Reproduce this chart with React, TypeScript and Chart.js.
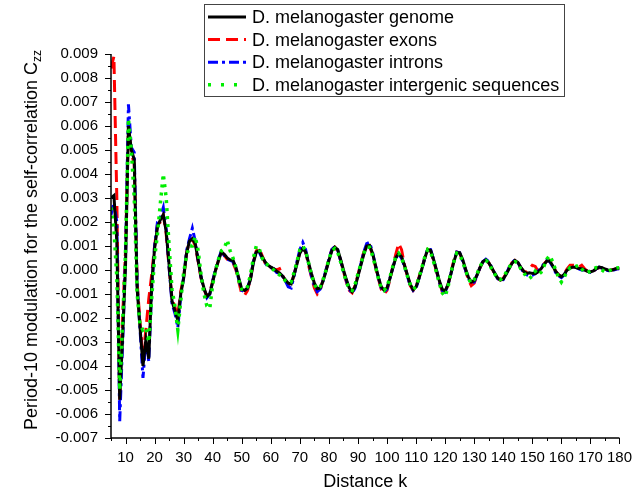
import React, { useEffect, useRef } from 'react';
import { Chart, registerables } from 'chart.js';

Chart.register(...registerables);

// Distance k runs over whole numbers from 5 to 180
const K_FIRST = 5;
const K_LAST = 180;
const distanceK: number[] = [];
for (let k = K_FIRST; k <= K_LAST; k++) distanceK.push(k);

// Values in units of 0.001 (one value per k, k = 5 .. 180)
const genomeMilli = [
  3.0, 3.1, 1.2, -5.4, -2.8, 0.2, 6.0, 5.0, 4.6, -0.8,
  -2.4, -4.0, -2.9, -3.7, -0.6, 0.9, 1.8, 2.1, 2.3, 1.6,
  0.2, -1.3, -1.7, -2.1, -1.0, -0.35, 0.7, 1.2, 1.3, 1.1,
  0.4, -0.3, -0.75, -1.1, -1.0, -0.5, 0.0, 0.4, 0.75, 0.65,
  0.5, 0.42, 0.4, 0.1, -0.35, -0.8, -0.85, -0.75, -0.4, 0.3,
  0.75, 0.8, 0.55, 0.35, 0.2, 0.12, 0.05, -0.05, -0.12, -0.25,
  -0.4, -0.55, -0.58, -0.2, 0.25, 0.7, 0.9, 0.75, 0.3, -0.15,
  -0.55, -0.78, -0.75, -0.45, -0.05, 0.4, 0.8, 0.95, 0.85, 0.45,
  0.0, -0.4, -0.75, -0.9, -0.7, -0.25, 0.2, 0.65, 1.0, 1.02,
  0.7, 0.2, -0.3, -0.7, -0.85, -0.75, -0.35, 0.1, 0.5, 0.68,
  0.55, 0.2, -0.2, -0.6, -0.82, -0.7, -0.35, 0.05, 0.5, 0.85,
  0.82, 0.45, 0.0, -0.45, -0.8, -0.88, -0.6, -0.15, 0.35, 0.72,
  0.72, 0.45, 0.05, -0.3, -0.5, -0.45, -0.2, 0.1, 0.35, 0.42,
  0.3, 0.1, -0.12, -0.32, -0.42, -0.38, -0.18, 0.05, 0.28, 0.4,
  0.32, 0.12, -0.05, -0.14, -0.12, -0.14, -0.15, -0.08, 0.05, 0.22,
  0.38, 0.38, 0.18, -0.05, -0.2, -0.28, -0.18, 0.0, 0.08, 0.12,
  0.1, 0.06, 0.05, 0.0, -0.05, -0.08, -0.04, 0.05, 0.12, 0.1,
  0.04, 0.0, -0.02, 0.02, 0.06, 0.07,
];

const exonsMilli = [
  8.4, 8.9, 3.0, -5.5, -2.0, 0.8, 6.0, 4.9, 4.4, -0.5,
  -2.2, -3.6, -2.5, -1.2, -0.2, 1.0, 1.9, 2.0, 2.3, 1.5,
  0.1, -1.2, -1.55, -1.9, -0.9, -0.3, 0.7, 1.2, 1.3, 1.0,
  0.35, -0.35, -0.8, -1.1, -0.95, -0.45, 0.0, 0.4, 0.75, 0.6,
  0.45, 0.35, 0.3, 0.0, -0.5, -1.0, -1.05, -0.85, -0.35, 0.35,
  0.8, 0.9, 0.6, 0.3, 0.15, 0.1, 0.05, 0.0, 0.05, -0.2,
  -0.45, -0.6, -0.6, -0.2, 0.3, 0.75, 0.95, 0.75, 0.2, -0.3,
  -0.75, -1.0, -0.85, -0.4, 0.0, 0.45, 0.85, 0.95, 0.8, 0.4,
  -0.05, -0.5, -0.85, -0.95, -0.65, -0.2, 0.3, 0.75, 1.0, 1.0,
  0.65, 0.15, -0.35, -0.8, -1.0, -0.85, -0.4, 0.15, 0.65, 1.1,
  0.85, 0.2, -0.25, -0.65, -0.85, -0.7, -0.3, 0.1, 0.5, 0.85,
  0.8, 0.4, -0.05, -0.5, -0.9, -0.95, -0.6, -0.1, 0.4, 0.75,
  0.7, 0.4, 0.0, -0.4, -0.65, -0.55, -0.2, 0.1, 0.35, 0.4,
  0.3, 0.1, -0.15, -0.35, -0.42, -0.35, -0.15, 0.1, 0.3, 0.4,
  0.3, 0.1, -0.05, -0.1, 0.05, 0.2, 0.15, -0.05, 0.05, 0.25,
  0.38, 0.4, 0.25, -0.05, -0.2, -0.28, -0.15, 0.05, 0.2, 0.2,
  0.18, 0.12, 0.2, 0.05, -0.05, -0.1, -0.05, 0.05, 0.1, 0.08,
  0.02, -0.02, 0.0, 0.02, 0.05, 0.06,
];

const intronsMilli = [
  2.3, 2.8, 2.0, -6.3, -3.0, 0.5, 6.9, 5.1, 4.9, -0.6,
  -2.5, -4.5, -3.0, -3.8, -0.8, 1.0, 2.0, 2.2, 2.6, 1.7,
  0.1, -1.4, -1.8, -2.4, -1.1, -0.3, 0.8, 1.3, 1.74, 1.2,
  0.4, -0.3, -0.8, -1.15, -1.0, -0.45, 0.05, 0.45, 0.8, 0.6,
  0.45, 0.4, 0.35, 0.05, -0.4, -0.85, -0.9, -0.75, -0.35, 0.35,
  0.8, 0.75, 0.5, 0.3, 0.15, 0.1, 0.05, -0.1, -0.15, -0.25,
  -0.45, -0.7, -0.75, -0.25, 0.35, 0.85, 1.15, 0.85, 0.25, -0.25,
  -0.65, -0.9, -0.8, -0.45, 0.0, 0.45, 0.85, 0.97, 0.85, 0.4,
  -0.05, -0.45, -0.8, -0.97, -0.75, -0.25, 0.25, 0.75, 1.1, 1.15,
  0.75, 0.2, -0.3, -0.75, -0.9, -0.8, -0.35, 0.1, 0.5, 0.65,
  0.5, 0.15, -0.25, -0.65, -0.85, -0.75, -0.35, 0.05, 0.5, 0.88,
  0.85, 0.45, 0.0, -0.5, -0.85, -0.92, -0.6, -0.15, 0.35, 0.75,
  0.72, 0.4, 0.0, -0.35, -0.55, -0.5, -0.2, 0.1, 0.35, 0.45,
  0.35, 0.12, -0.12, -0.35, -0.45, -0.4, -0.15, 0.1, 0.3, 0.42,
  0.32, 0.1, -0.1, -0.2, -0.25, -0.22, -0.15, -0.05, 0.1, 0.25,
  0.4, 0.35, 0.15, -0.1, -0.25, -0.32, -0.2, 0.0, 0.1, 0.15,
  0.12, 0.05, 0.0, -0.02, -0.05, -0.1, -0.05, 0.05, 0.12, 0.08,
  0.02, -0.02, -0.05, 0.0, 0.04, 0.05,
];

const intergenicMilli = [
  2.6, 1.7, -0.3, -5.0, -2.2, 0.8, 6.3, 5.0, 3.0, -1.0,
  -2.3, -2.5, -2.4, -3.0, -1.2, 0.5, 1.5, 2.8, 4.0, 3.0,
  1.0, -0.8, -1.5, -2.5, -1.3, -0.1, 0.6, 1.0, 1.0, 1.4,
  0.8, -0.2, -1.0, -1.5, -1.6, -0.6, 0.0, 0.45, 0.8, 0.9,
  1.25, 0.8, 0.5, 0.1, -0.45, -0.8, -0.85, -0.7, -0.2, 0.5,
  1.0, 0.9, 0.5, 0.3, 0.2, 0.1, 0.0, -0.15, -0.2, -0.3,
  -0.45, -0.55, -0.5, -0.1, 0.35, 0.85, 1.0, 0.8, 0.3, -0.2,
  -0.6, -0.8, -0.7, -0.4, 0.0, 0.45, 0.8, 0.9, 0.75, 0.35,
  -0.1, -0.5, -0.8, -0.85, -0.6, -0.15, 0.25, 0.7, 0.95, 0.95,
  0.6, 0.15, -0.35, -0.75, -0.85, -0.7, -0.3, 0.15, 0.55, 0.7,
  0.5, 0.15, -0.25, -0.6, -0.8, -0.7, -0.3, 0.1, 0.55, 0.85,
  0.75, 0.35, -0.1, -0.55, -0.95, -1.1, -0.7, -0.1, 0.35, 0.7,
  0.65, 0.35, 0.0, -0.35, -0.55, -0.4, -0.15, 0.15, 0.35, 0.4,
  0.3, 0.05, -0.15, -0.35, -0.4, -0.3, -0.1, 0.1, 0.3, 0.35,
  0.3, 0.05, -0.1, -0.3, -0.35, -0.25, -0.05, -0.2, -0.1, 0.15,
  0.45, 0.6, 0.35, 0.0, -0.3, -0.5, -0.3, -0.05, 0.1, 0.1,
  0.15, 0.2, 0.05, -0.1, -0.1, -0.05, 0.05, 0.1, 0.08, 0.0,
  -0.08, -0.05, 0.0, 0.05, 0.08, 0.1,
];

const seriesLabels = [
  'D. melanogaster genome',
  'D. melanogaster exons',
  'D. melanogaster introns',
  'D. melanogaster intergenic sequences',
];

const X_MIN = 5;
const X_MAX = 180;
const X_MAJOR = 10;
const X_MINOR = 5;
const Y_MIN = -0.007;
const Y_MAX = 0.009;
const Y_MAJOR = 0.001;
const Y_MINOR = 0.0005;

const xTitle = 'Distance k';
const yTitleMain = 'Period-10 modulation for the self-correlation C';
const yTitleSub = 'zz';

const FONT = '"Liberation Sans", Arial, Helvetica, sans-serif';

const toPoints = (vals: number[]) => vals.map((v, i) => ({ x: distanceK[i], y: v / 1000 }));

const axesPlugin = {
  id: 'customAxes',
  afterDatasetsDraw(chart: any) {
    const { ctx, chartArea, scales } = chart;
    const { left, right, top, bottom } = chartArea;
    const x = scales.x;
    const y = scales.y;
    ctx.save();
    ctx.strokeStyle = '#000';
    ctx.lineWidth = 1.5;
    ctx.beginPath();
    ctx.moveTo(left, top);
    ctx.lineTo(left, bottom);
    ctx.lineTo(right, bottom);
    ctx.stroke();
    ctx.lineWidth = 1;
    ctx.beginPath();
    const nY = Math.round((Y_MAX - Y_MIN) / Y_MINOR);
    for (let i = 0; i <= nY; i++) {
      const v = Y_MIN + i * Y_MINOR;
      const py = Math.round(y.getPixelForValue(v)) + 0.5;
      const len = i % 2 === 0 ? 6 : 3;
      ctx.moveTo(left, py);
      ctx.lineTo(left - len, py);
    }
    for (let v = X_MIN; v <= X_MAX + 1e-9; v += X_MINOR) {
      const px = Math.round(x.getPixelForValue(v)) + 0.5;
      const len = v % X_MAJOR === 0 ? 6 : 3;
      ctx.moveTo(px, bottom);
      ctx.lineTo(px, bottom + len);
    }
    ctx.stroke();

    // titles
    ctx.fillStyle = '#000';
    ctx.font = `18px ${FONT}`;
    ctx.textAlign = 'center';
    ctx.textBaseline = 'middle';
    ctx.fillText(xTitle, (left + right) / 2, 482);

    ctx.save();
    ctx.translate(37, 240);
    ctx.rotate(-Math.PI / 2);
    ctx.textAlign = 'left';
    ctx.textBaseline = 'alphabetic';
    ctx.font = `18px ${FONT}`;
    const wMain = ctx.measureText(yTitleMain).width;
    ctx.font = `12px ${FONT}`;
    const wSub = ctx.measureText(yTitleSub).width;
    const start = -(wMain + wSub) / 2;
    ctx.font = `18px ${FONT}`;
    ctx.fillText(yTitleMain, start, 0);
    ctx.font = `12px ${FONT}`;
    ctx.fillText(yTitleSub, start + wMain, 4);
    ctx.restore();

    // legend
    const bx = 204.5, by = 4.5, bw = 360, bh = 92;
    ctx.fillStyle = '#fff';
    ctx.fillRect(bx, by, bw, bh);
    ctx.strokeStyle = '#444';
    ctx.lineWidth = 1;
    ctx.strokeRect(bx, by, bw, bh);
    const ds = chart.data.datasets;
    seriesLabels.forEach((lab, i) => {
      const d = ds[i];
      const ry = 17 + i * 22.6;
      ctx.save();
      ctx.strokeStyle = d.borderColor;
      ctx.lineWidth = d.borderWidth;
      ctx.setLineDash(d.legendDash || d.borderDash || []);
      ctx.beginPath();
      ctx.moveTo(208, ry);
      ctx.lineTo(246, ry);
      ctx.stroke();
      ctx.restore();
      ctx.fillStyle = '#000';
      ctx.font = `18px ${FONT}`;
      ctx.textAlign = 'left';
      ctx.textBaseline = 'middle';
      ctx.fillText(lab, 252, ry + 1);
    });
    ctx.restore();
  },
};

export default function App() {
  const ref = useRef<HTMLCanvasElement | null>(null);
  useEffect(() => {
    if (!ref.current) return;
    const chart = new Chart(ref.current, {
      type: 'line',
      data: {
        datasets: [
          {
            label: seriesLabels[0],
            data: toPoints(genomeMilli),
            borderColor: '#000000',
            borderWidth: 3,
            pointRadius: 0,
            order: 1,
          },
          {
            label: seriesLabels[1],
            data: toPoints(exonsMilli),
            borderColor: '#ff0000',
            borderWidth: 3,
            borderDash: [12, 6],
            pointRadius: 0,
            order: 3,
          },
          {
            label: seriesLabels[2],
            data: toPoints(intronsMilli),
            borderColor: '#0000ff',
            borderWidth: 3,
            borderDash: [10, 4, 3, 4],
            pointRadius: 0,
            order: 2,
          },
          {
            label: seriesLabels[3],
            data: toPoints(intergenicMilli),
            borderColor: '#00ee00',
            borderWidth: 3.5,
            borderDash: [3, 5],
            legendDash: [3, 10],
            pointRadius: 0,
            order: 0,
          } as any,
        ],
      },
      options: {
        animation: false,
        responsive: false,
        devicePixelRatio: 1,
        layout: { padding: { top: 54, right: 16, bottom: 0, left: 0 } },
        plugins: { legend: { display: false }, tooltip: { enabled: false } },
        scales: {
          x: {
            type: 'linear',
            min: X_MIN,
            max: X_MAX,
            grid: { display: false, drawTicks: false },
            border: { display: false },
            ticks: {
              stepSize: X_MAJOR,
              autoSkip: false,
              maxRotation: 0,
              padding: 11,
              color: '#000',
              font: { family: FONT, size: 15 },
            },
            afterBuildTicks: (axis: any) => {
              axis.ticks = axis.ticks.filter((t: any) => t.value % X_MAJOR === 0);
            },
            afterFit: (axis: any) => {
              axis.height = 54;
            },
          },
          y: {
            type: 'linear',
            min: Y_MIN,
            max: Y_MAX,
            grid: { display: false, drawTicks: false },
            border: { display: false },
            ticks: {
              stepSize: Y_MAJOR,
              autoSkip: false,
              padding: 13,
              color: '#000',
              font: { family: FONT, size: 15 },
              callback: (v: any) => (Math.abs(v) < 1e-9 ? '0.000' : Number(v).toFixed(3)),
            },
            afterFit: (axis: any) => {
              axis.width = 111;
            },
          },
        },
      },
      plugins: [axesPlugin],
    });
    return () => chart.destroy();
  }, []);
  return (
    <div style={{ position: 'absolute', left: 0, top: 0, width: 643, height: 492, background: '#fff' }}>
      <canvas ref={ref} width={643} height={492} style={{ display: 'block' }} />
    </div>
  );
}
